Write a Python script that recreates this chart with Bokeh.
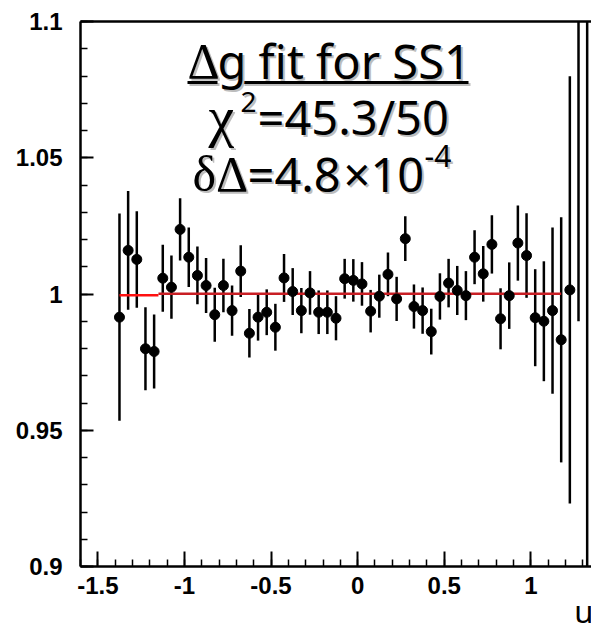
from bokeh.plotting import figure
from bokeh.models import Label, LinearAxis, FixedTicker, Range1d
from bokeh.layouts import column
from bokeh.embed import file_html
from bokeh.resources import INLINE

# ---------------- data ----------------
u_bins = [-1.375, -1.325, -1.275, -1.225, -1.175, -1.125, -1.075, -1.025, -0.975, -0.925,
          -0.875, -0.825, -0.775, -0.725, -0.675, -0.625, -0.575, -0.525, -0.475, -0.425,
          -0.375, -0.325, -0.275, -0.225, -0.175, -0.125, -0.075, -0.025, 0.025, 0.075,
          0.125, 0.175, 0.225, 0.275, 0.325, 0.375, 0.425, 0.475, 0.525, 0.575,
          0.625, 0.675, 0.725, 0.775, 0.825, 0.875, 0.925, 0.975, 1.025, 1.075,
          1.125, 1.175, 1.225, 1.275, 1.325]
ratio = [0.9915, 1.0160, 1.0127, 0.9799, 0.9789, 1.0058, 1.0025, 1.0237, 1.0135, 1.0068,
         1.0031, 0.9924, 1.0031, 0.9939, 1.0084, 0.9856, 0.9915, 0.9933, 0.9878, 1.0059,
         1.0009, 0.9939, 1.0004, 0.9933, 0.9933, 0.9911, 1.0056, 1.0050, 1.0037, 0.9937,
         0.9992, 1.0072, 0.9982, 1.0203, 0.9954, 0.9939, 0.9862, 0.9991, 1.0040, 1.0013,
         0.9994, 1.0135, 1.0074, 1.0182, 0.9909, 0.9994, 1.0187, 1.0141, 0.9913, 0.9900,
         0.9939, 0.9832, 1.0015, 1.1300, 0.8300]
ratio_err = [0.0380, 0.0218, 0.0177, 0.0152, 0.0136, 0.0123, 0.0116, 0.0114, 0.0109, 0.0106,
             0.0101, 0.0099, 0.0098, 0.0092, 0.0095, 0.0089, 0.0086, 0.0084, 0.0086, 0.0088,
             0.0086, 0.0083, 0.0080, 0.0080, 0.0080, 0.0081, 0.0073, 0.0078, 0.0080, 0.0078,
             0.0079, 0.0080, 0.0081, 0.0082, 0.0081, 0.0085, 0.0084, 0.0085, 0.0089, 0.0090,
             0.0090, 0.0099, 0.0102, 0.0107, 0.0112, 0.0122, 0.0138, 0.0155, 0.0178, 0.0220,
             0.0305, 0.0450, 0.0784, 0.1400, 0.3200]

fit_u_a = [-1.375, -1.15]
fit_a = [0.9995, 0.9995]
fit_u_b = [-1.15, 1.175]
fit_b = [1.0001, 1.0001]

x_ticks = [-1.5, -1.0, -0.5, 0.0, 0.5, 1.0]
x_tick_labels = ["-1.5", "-1", "-0.5", "0", "0.5", "1"]
y_ticks = [0.9, 0.95, 1.0, 1.05, 1.1]
y_tick_labels = ["0.9", "0.95", "1", "1.05", "1.1"]
x_title = "u"

# ---------------- layout ----------------
W, H = 591, 605
H2 = 624 - H
X0, X1 = -1.6, 1.35
Y0, Y1 = 0.9, 1.1
FL, FR, FT, FB = 80, 591, 21, 566  # frame edges in page pixels
TXT_SHIFT = 15  # label baseline correction


def dx(px):
    return X0 + (px - FL) * (X1 - X0) / (FR - FL)


def dy(py):
    return Y1 - (py - FT) * (Y1 - Y0) / (FB - FT)


p = figure(width=W, height=H, x_range=Range1d(X0, X1), y_range=Range1d(Y0, Y1),
           output_backend="svg", toolbar_location=None,
           min_border_left=FL, min_border_right=W - FR, min_border_top=FT,
           min_border_bottom=H - FB)
p.outline_line_color = None
p.background_fill_color = "white"
p.border_fill_color = "white"
p.xgrid.grid_line_color = None
p.ygrid.grid_line_color = None

x_minor = [round(-1.6 + 0.1 * i, 2) for i in range(30)]
y_minor = [round(0.9 + 0.01 * i, 3) for i in range(21)]
p.xaxis.ticker = FixedTicker(ticks=x_ticks, minor_ticks=x_minor)
p.yaxis.ticker = FixedTicker(ticks=y_ticks, minor_ticks=y_minor)
p.xaxis.major_label_overrides = dict(zip(x_ticks, x_tick_labels))
p.yaxis.major_label_overrides = dict(zip(y_ticks, y_tick_labels))

for ax in (p.xaxis[0], p.yaxis[0]):
    ax.axis_line_width = 2.5
    ax.axis_line_color = "black"
    ax.major_tick_out = 0
    ax.minor_tick_out = 0
    ax.minor_tick_in = 7
    ax.major_tick_line_width = 2
    ax.minor_tick_line_width = 1.5
    ax.major_tick_line_color = "black"
    ax.minor_tick_line_color = "black"
    ax.major_label_text_font = "Liberation Sans"
    ax.major_label_text_font_style = "bold"
    ax.major_label_text_font_size = "24px"
    ax.major_label_text_color = "black"
p.xaxis.major_tick_in = 15
p.yaxis.major_tick_in = 13
p.xaxis.major_label_standoff = 10
p.yaxis.major_label_standoff = 18

top_axis = LinearAxis(ticker=FixedTicker(ticks=[]), axis_line_width=2.5,
                      axis_line_color="black", major_tick_out=0, major_tick_in=0,
                      minor_tick_out=0, minor_tick_in=0, major_label_standoff=0)
p.add_layout(top_axis, "above")

# ---------------- data marks ----------------
lo = [v - e for v, e in zip(ratio, ratio_err)]
hi = [v + e for v, e in zip(ratio, ratio_err)]
p.segment(x0=u_bins, y0=lo, x1=u_bins, y1=hi, line_color="black", line_width=2.5)
p.line(fit_u_a, fit_a, line_color="#ff1010", line_width=2.5)
p.line(fit_u_b, fit_b, line_color="#c81e24", line_width=2.5)
p.scatter(u_bins, ratio, marker="circle", size=10, fill_color="black", line_color="black")

# ---------------- annotation text ----------------
SANS = "Noto Sans"
SERIF = "Liberation Serif"
texts = [
    # (left px, baseline px, text, font, size)
    (187, 75, "\u0394", SERIF, 50),
    (217, 75, "g fit for SS1", SANS, 47),
    (208, 131, "\u03c7", SERIF, 58),
    (240, 116, "2", SANS, 28),
    (257, 131, "=45.3/50", SANS, 47),
    (192, 188, "\u03b4\u0394", SERIF, 50),
    (247, 188, "=4.8", SANS, 47),
    (343, 188, "\u00d710", SANS, 47),
    (424, 170, "-4", SANS, 30),
]
for off, col in ((2, "#bdbdbd"), (0, "black")):
    for (lx, by, t, f, s) in texts:
        p.add_layout(Label(x=dx(lx + off), y=dy(by + off - TXT_SHIFT), text=t, text_font=f,
                           text_font_size=f"{s}px", text_color=col,
                           text_align="left", text_baseline="alphabetic"))
    p.line([dx(187 + off), dx(217 + off)], [dy(82 + off), dy(82 + off)],
           line_color=col, line_width=3)
    p.line([dx(242 + off), dx(468 + off)], [dy(82 + off), dy(82 + off)],
           line_color=col, line_width=3)

# ---------------- strip below carrying the axis title ----------------
p2 = figure(width=W, height=H2, x_range=Range1d(0, W), y_range=Range1d(0, H2),
            output_backend="svg", toolbar_location=None, x_axis_type=None,
            y_axis_type=None, min_border=0)
p2.outline_line_color = None
p2.background_fill_color = "white"
p2.border_fill_color = "white"
p2.xgrid.grid_line_color = None
p2.ygrid.grid_line_color = None
# baseline wanted at page y=625 (just below the window edge)
p2.add_layout(Label(x=571, y=H2 - (625 - TXT_SHIFT - H), text=x_title, text_font=SANS,
                    text_font_size="31px", text_color="black",
                    text_align="left", text_baseline="alphabetic"))

layout = column(p, p2, spacing=0)
open("out.html", "w").write(file_html(layout, INLINE))
